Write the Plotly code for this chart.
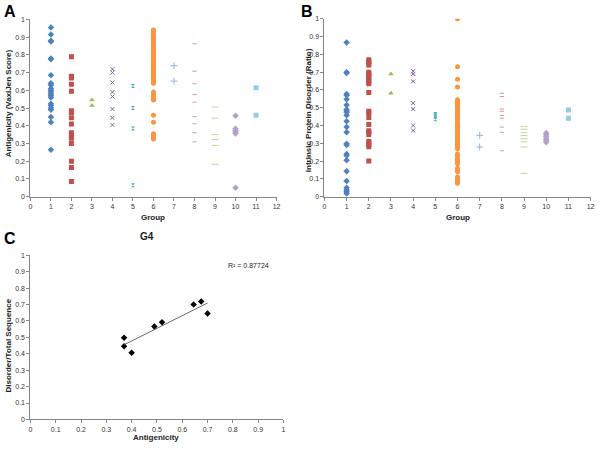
import numpy as np
import plotly.graph_objects as go

# ---------------- data ----------------
groups = list(range(1, 12))

antigenicity = {
    1: [0.955, 0.915, 0.88, 0.875, 0.78, 0.775, 0.685, 0.64, 0.63, 0.61, 0.6, 0.59, 0.58, 0.57, 0.56, 0.525, 0.515, 0.5, 0.49, 0.45, 0.42, 0.265],
    2: [0.79, 0.68, 0.675, 0.67, 0.635, 0.595, 0.485, 0.475, 0.445, 0.41, 0.36, 0.345, 0.33, 0.3, 0.2, 0.165, 0.085],
    3: [0.545, 0.515],
    4: [0.72, 0.70, 0.645, 0.59, 0.565, 0.495, 0.445, 0.405],
    5: [0.625, 0.5, 0.385, 0.065],
    6: [0.94, 0.93, 0.915, 0.905, 0.895, 0.89, 0.88, 0.87, 0.86, 0.855, 0.845, 0.835, 0.83, 0.82, 0.81, 0.8,
        0.795, 0.785, 0.775, 0.77, 0.76, 0.75, 0.745, 0.735, 0.725, 0.715, 0.71, 0.7, 0.69, 0.68, 0.67, 0.665,
        0.655, 0.645, 0.64, 0.59, 0.58, 0.565, 0.55, 0.545, 0.46, 0.42, 0.355, 0.345, 0.335, 0.325],
    7: [0.739, 0.652],
    8: [0.863, 0.708, 0.637, 0.576, 0.533, 0.452, 0.411, 0.361, 0.309],
    9: [0.506, 0.443, 0.35, 0.322, 0.289, 0.183],
    10: [0.456, 0.383, 0.374, 0.365, 0.356, 0.05],
    11: [0.615, 0.459],
}

disorder = {
    1: [0.867, 0.70, 0.695, 0.577, 0.57, 0.548, 0.515, 0.49, 0.482, 0.474, 0.458, 0.424, 0.392, 0.362, 0.298, 0.29, 0.24, 0.232, 0.205, 0.143, 0.088, 0.05, 0.038, 0.028, 0.018],
    2: [0.77, 0.76, 0.75, 0.74, 0.70, 0.69, 0.68, 0.67, 0.655, 0.645, 0.635, 0.585, 0.48, 0.47, 0.445, 0.405, 0.37, 0.36, 0.35, 0.31, 0.30, 0.29, 0.28, 0.2],
    3: [0.69, 0.581],
    4: [0.705, 0.69, 0.69, 0.648, 0.526, 0.493, 0.40, 0.372],
    5: [0.465, 0.458, 0.45, 0.435],
    6: [1.0, 0.73, 0.66, 0.617, 0.545, 0.535, 0.525, 0.515, 0.505, 0.495, 0.485, 0.475, 0.465, 0.455, 0.445, 0.435,
        0.42, 0.41, 0.4, 0.39, 0.38, 0.37, 0.36, 0.35, 0.34, 0.33, 0.32, 0.31, 0.3, 0.29, 0.28, 0.27,
        0.24, 0.23, 0.215, 0.205, 0.195, 0.185, 0.16, 0.15, 0.14, 0.11, 0.1, 0.09, 0.08, 0.075],
    7: [0.345, 0.279],
    8: [0.581, 0.563, 0.493, 0.48, 0.456, 0.441, 0.391, 0.362, 0.258],
    9: [0.395, 0.379, 0.36, 0.343, 0.326, 0.308, 0.279, 0.131],
    10: [0.358, 0.349, 0.338, 0.326, 0.315, 0.306],
    11: [0.487, 0.441],
}

g4_antigenicity = [0.37, 0.37, 0.40, 0.49, 0.52, 0.645, 0.675, 0.70]
g4_disorder = [0.498, 0.446, 0.406, 0.566, 0.592, 0.70, 0.718, 0.646]
r2_label = "R² = 0.87724"

x_ticks_group = list(range(0, 13))
y_ticks = [round(0.1 * i, 1) for i in range(11)]

# ---------------- styles ----------------
colors = {1: "#4F81BD", 2: "#C0504D", 3: "#9BBB59", 4: "#8064A2", 5: "#4BACC6", 6: "#F79646",
          7: "#95B3D7", 8: "#D99694", 9: "#C3D69B", 10: "#B3A2C7", 11: "#93CDDD"}
symbols = {1: "diamond", 2: "square", 3: "triangle-up", 4: "x-thin-open", 5: "hourglass",
           6: "circle", 7: "cross-thin-open", 8: "line-ew-open", 9: "line-ew-open", 10: "diamond", 11: "square"}
sizes = {1: 5, 2: 5, 3: 5, 4: 4, 5: 4, 6: 5, 7: 5, 8: 3, 9: 5, 10: 5, 11: 5}

fig = go.Figure()

for panel, data in (("", antigenicity), ("2", disorder)):
    for g in groups:
        vals = data[g]
        c = colors[g]
        sym = symbols[g]
        fig.add_trace(go.Scatter(
            x=[g] * len(vals), y=vals, mode="markers",
            xaxis="x" + panel, yaxis="y" + panel, showlegend=False,
            marker=dict(symbol=sym, size=sizes[g], color=c,
                        line=dict(color=c, width=1 if "open" in sym else 0)),
        ))

# panel C
fig.add_trace(go.Scatter(x=g4_antigenicity, y=g4_disorder, mode="markers",
                         xaxis="x3", yaxis="y3", showlegend=False,
                         marker=dict(symbol="diamond", size=5, color="black")))
slope, intercept = np.polyfit(g4_antigenicity, g4_disorder, 1)
xl = np.array([min(g4_antigenicity), max(g4_antigenicity)])
fig.add_trace(go.Scatter(x=xl, y=slope * xl + intercept, mode="lines",
                         xaxis="x3", yaxis="y3", showlegend=False,
                         line=dict(color="#444444", width=0.8)))

W, H = 600, 450
def px_x(a, b):
    return [a / W, b / W]
def px_y(top, bottom):
    return [(H - bottom) / H, (H - top) / H]

axis_common = dict(showline=True, linecolor="#868686", linewidth=1, ticks="outside",
                   tickcolor="#868686", ticklen=3, showgrid=False, zeroline=False,
                   tickfont=dict(family="Liberation Sans", size=7, color="#333333"))

fig.update_layout(
    width=W, height=H, margin=dict(l=0, r=0, t=0, b=0),
    paper_bgcolor="white", plot_bgcolor="white",
    font=dict(family="Liberation Sans", color="#222222"),
    xaxis=dict(domain=px_x(28.7, 277.3), range=[0, 12], tickvals=x_ticks_group, anchor="y", **axis_common),
    yaxis=dict(domain=px_y(15.7, 195.7), range=[0, 1], tickvals=y_ticks, anchor="x", **axis_common),
    xaxis2=dict(domain=px_x(325.7, 594.5), range=[0, 12], tickvals=x_ticks_group, anchor="y2", **axis_common),
    yaxis2=dict(domain=px_y(15, 195.7), range=[0, 1], tickvals=y_ticks, anchor="x2", **axis_common),
    xaxis3=dict(domain=px_x(28.7, 284.3), range=[0, 1], tickvals=y_ticks, anchor="y3", **axis_common),
    yaxis3=dict(domain=px_y(255.3, 422), range=[0, 1], tickvals=y_ticks, anchor="x3", **axis_common),
)

def ann(text, x, y, size, bold=True, angle=0, color="#222222"):
    t = f"<b>{text}</b>" if bold else text
    fig.add_annotation(text=t, x=x / W, y=1 - y / H, xref="paper", yref="paper",
                       showarrow=False, textangle=angle, xanchor="center", yanchor="middle",
                       font=dict(family="Liberation Sans", size=size, color=color))

ann("A", 8, 8, 16, color="black")
ann("B", 308, 8, 16, color="black")
ann("C", 8, 238, 16, color="black")
ann("Antigenicity (VaxiJen Score)", 6, 101, 8, angle=-90)
ann("Intrinsic Protein Disorder (Ratio)", 309, 108, 8, angle=-90)
ann("Group", 153, 217, 8)
ann("Group", 461, 217, 8)
ann("G4", 146, 236, 10)
ann(r2_label, 249, 266, 7, bold=False)
ann("Antigenicity", 156, 440, 8)
ann("Disorder/Total Sequence", 7, 347, 8, angle=-90)

fig.write_html("out.html", config={"displayModeBar": False},
               post_script="document.body.style.margin='0';")
